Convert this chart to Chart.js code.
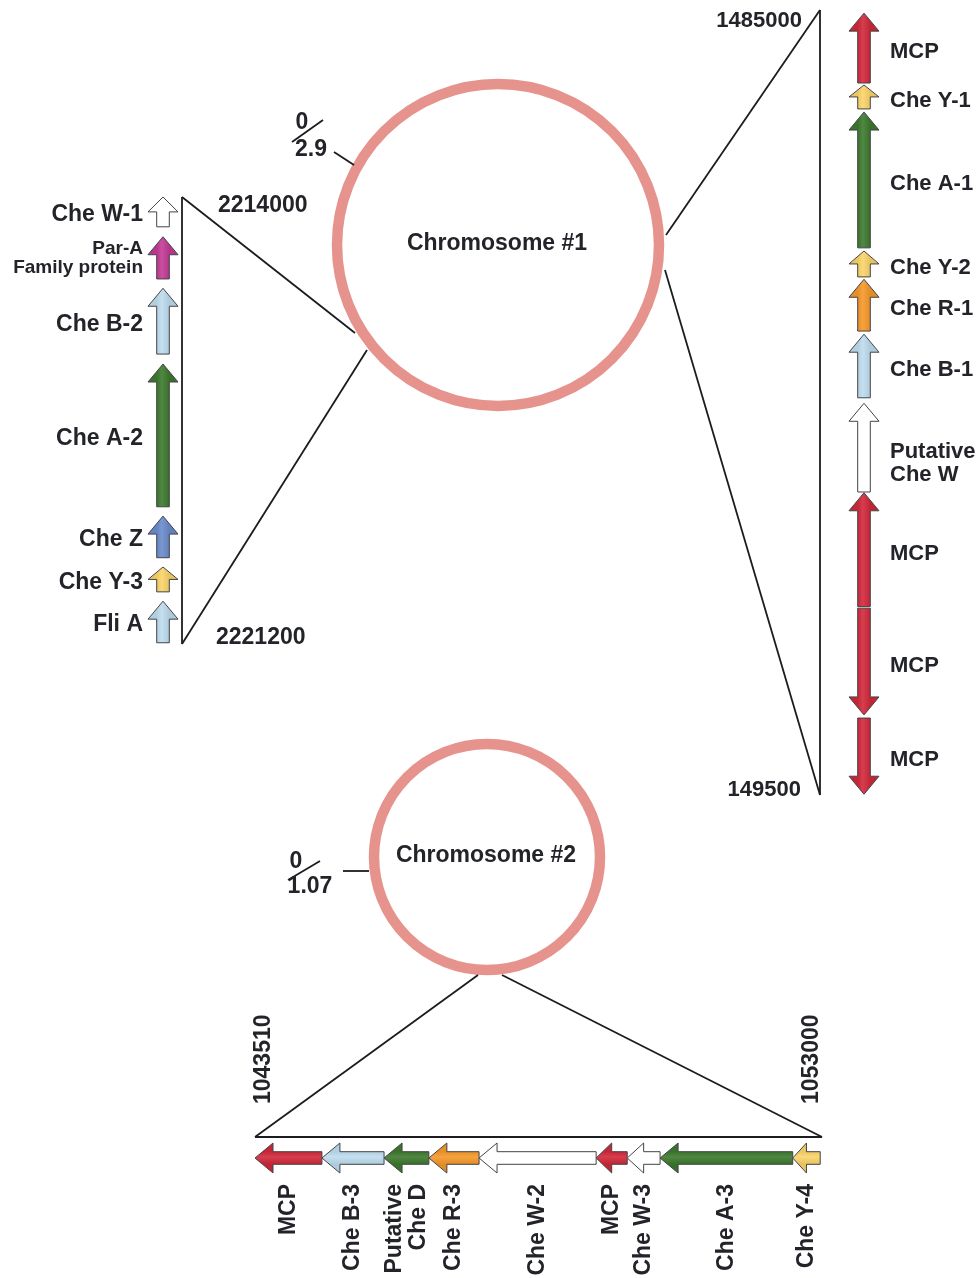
<!DOCTYPE html>
<html>
<head>
<meta charset="utf-8">
<script src="https://cdn.jsdelivr.net/npm/chart.js@4.4.1/dist/chart.umd.min.js"></script>
<style>
  html, body { margin: 0; padding: 0; background: #fff; overflow: hidden; }
  #wrap { width: 980px; height: 1278px; position: relative; }
</style>
</head>
<body>
<div id="wrap"><canvas id="genes"></canvas></div>
<script>
// chromosome #1, cluster at 2214000-2221200 (drawn top to bottom)
const chr1LeftNames  = ["Che W-1", "Par-A\nFamily protein", "Che B-2", "Che A-2", "Che Z", "Che Y-3", "Fli A"];
const chr1LeftStart  = [2214000, 2214640, 2215470, 2216690, 2219140, 2219960, 2220510];
const chr1LeftEnd    = [2214480, 2215320, 2216530, 2218990, 2219810, 2220360, 2221180];
const chr1LeftStrand = [-1, -1, -1, -1, -1, -1, -1];
const chr1LeftBounds = [2214000, 2221200];
const chr1LeftTicks  = ["2214000", "2221200"];

// chromosome #1, cluster at 1485000-1495000 (the figure prints the end as 149500)
const chr1RightNames  = ["MCP", "Che Y-1", "Che A-1", "Che Y-2", "Che R-1", "Che B-1", "Putative\nChe W", "MCP", "MCP", "MCP"];
const chr1RightStart  = [1485040, 1485955, 1486300, 1488070, 1488430, 1489130, 1490010, 1491150, 1492620, 1494020];
const chr1RightEnd    = [1485930, 1486260, 1488030, 1488400, 1489090, 1489940, 1491140, 1492600, 1493980, 1494990];
const chr1RightStrand = [-1, -1, -1, -1, -1, -1, -1, -1, 1, 1];
const chr1RightBounds = [1485000, 1495000];
const chr1RightTicks  = ["1485000", "149500"];

// chromosome #2, cluster at 1043510-1053000 (drawn left to right)
const chr2Names  = ["MCP", "Che B-3", "Putative\nChe D", "Che R-3", "Che W-2", "MCP", "Che W-3", "Che A-3", "Che Y-4"];
const chr2Start  = [1043510, 1044630, 1045670, 1046420, 1047260, 1049220, 1049740, 1050290, 1052510];
const chr2End    = [1044630, 1045670, 1046420, 1047260, 1049220, 1049740, 1050290, 1052510, 1052970];
const chr2Strand = [-1, -1, -1, -1, -1, -1, -1, -1, -1];
const chr2Bounds = [1043510, 1053000];
const chr2Ticks  = ["1043510", "1053000"];

const chromosomeNames = ["Chromosome #1", "Chromosome #2"];
const chromosomeSizes = ["2.9", "1.07"];

const W = 980, H = 1278;
const FONT = '"Liberation Sans", Arial, sans-serif';
const INK = "#232429";

// where each cluster sits on the page (pixels)
const box = {
    left:   { line: 182, genes: 163, p0: 197, p1: 644 },
    right:  { line: 820, genes: 864, p0: 10, p1: 795 },
    bottom: { line: 1137, genes: 1158, p0: 255, p1: 822 }
};

function span(bounds, p0, p1, total) {
    const k = (bounds[1] - bounds[0]) / (p1 - p0);
    return { min: bounds[0] - p0 * k, max: bounds[0] + (total - p0) * k };
}

function geneColor(name) {
    if (name.startsWith("MCP")) return "#d1283a";
    if (name.includes("Che Y")) return "#fad469";
    if (name.includes("Che A") || name.includes("Che D")) return "#3d7a2e";
    if (name.includes("Che B") || name.startsWith("Fli")) return "#bddcee";
    if (name.includes("Che R")) return "#f5982a";
    if (name.includes("Che Z")) return "#6a8ccc";
    if (name.startsWith("Par")) return "#c43a96";
    return "#ffffff";
}

function shade(hex, amt) {
    const n = parseInt(hex.slice(1), 16);
    const f = c => Math.round(amt < 0 ? c * (1 + amt) : c + (255 - c) * amt);
    return "rgb(" + f(n >> 16) + "," + f((n >> 8) & 255) + "," + f(n & 255) + ")";
}

function drawArrow(ctx, s0, s1, c, vertical, color) {
    const hw = 15, bw = 6.3;
    const dir = s1 > s0 ? 1 : -1;
    const head = Math.min(18, Math.abs(s1 - s0) * 0.5);
    const sh = s1 - dir * head;
    const pts = [[s0, -bw], [sh, -bw], [sh, -hw], [s1, 0], [sh, hw], [sh, bw], [s0, bw]];
    ctx.beginPath();
    pts.forEach((p, i) => {
        const x = vertical ? c + p[1] : p[0];
        const y = vertical ? p[0] : c + p[1];
        if (i === 0) ctx.moveTo(x, y); else ctx.lineTo(x, y);
    });
    ctx.closePath();
    if (color === "#ffffff") {
        ctx.fillStyle = color;
    } else {
        const g = vertical ? ctx.createLinearGradient(c - bw, 0, c + bw, 0)
                           : ctx.createLinearGradient(0, c - bw, 0, c + bw);
        g.addColorStop(0, shade(color, -0.06));
        g.addColorStop(0.4, shade(color, 0.1));
        g.addColorStop(1, shade(color, -0.08));
        ctx.fillStyle = g;
    }
    ctx.fill();
    ctx.lineWidth = 1;
    ctx.strokeStyle = "#444448";
    ctx.stroke();
}

function line(ctx, x1, y1, x2, y2) {
    ctx.beginPath();
    ctx.moveTo(x1, y1);
    ctx.lineTo(x2, y2);
    ctx.lineWidth = 1.8;
    ctx.strokeStyle = "#1c1c20";
    ctx.stroke();
}

function text(ctx, str, x, y, align, size, rot) {
    ctx.save();
    ctx.translate(x, y);
    if (rot) ctx.rotate(rot);
    ctx.font = "bold " + size + "px " + FONT;
    ctx.fillStyle = INK;
    ctx.textAlign = align;
    ctx.textBaseline = "middle";
    ctx.fillText(str, 0, 0);
    ctx.restore();
}

const genePlugin = {
    id: "geneClusters",
    afterDraw(chart) {
        const ctx = chart.ctx;
        const X = v => chart.scales.x.getPixelForValue(v);
        const Y = v => chart.scales.y.getPixelForValue(v);
        const sL = chart.scales.c1L, sR = chart.scales.c1R, sB = chart.scales.c2;

        // chromosome rings
        const rings = [[498, 245, 161], [487, 857, 113]];
        rings.forEach((r, i) => {
            ctx.beginPath();
            ctx.arc(X(r[0]), Y(r[1]), r[2], 0, Math.PI * 2);
            ctx.lineWidth = 10.5;
            ctx.strokeStyle = "#e6938d";
            ctx.stroke();
            text(ctx, chromosomeNames[i], X(r[0]) - 1, Y(r[1]) - 1, "center", 23);
        });

        // origin marks "0 / size"
        text(ctx, "0", X(302), Y(123), "center", 23);
        line(ctx, X(292), Y(142), X(323), Y(120));
        text(ctx, chromosomeSizes[0], X(311), Y(150), "center", 23);
        line(ctx, X(334), Y(152), X(354), Y(165));
        text(ctx, "0", X(296), Y(862), "center", 23);
        line(ctx, X(288), Y(880), X(320), Y(861));
        text(ctx, chromosomeSizes[1], X(310), Y(887), "center", 23);
        line(ctx, X(343), Y(871), X(369), Y(871));

        // zoom triangles
        const lt = sL.getPixelForValue(chr1LeftBounds[0]), lb = sL.getPixelForValue(chr1LeftBounds[1]);
        line(ctx, X(box.left.line), lt, X(box.left.line), lb);
        line(ctx, X(box.left.line), lt, X(355), Y(333));
        line(ctx, X(box.left.line), lb, X(367), Y(350));
        const rt = sR.getPixelForValue(chr1RightBounds[0]), rb = sR.getPixelForValue(chr1RightBounds[1]);
        line(ctx, X(box.right.line), rt, X(box.right.line), rb);
        line(ctx, X(box.right.line), rt, X(666), Y(235));
        line(ctx, X(box.right.line), rb, X(665), Y(270));
        const bl = sB.getPixelForValue(chr2Bounds[0]), br = sB.getPixelForValue(chr2Bounds[1]);
        line(ctx, bl, Y(box.bottom.line), br, Y(box.bottom.line));
        line(ctx, bl, Y(box.bottom.line), X(478), Y(975));
        line(ctx, br, Y(box.bottom.line), X(502), Y(975));

        // range labels
        text(ctx, chr1LeftTicks[0], X(box.left.line + 36), lt + 9, "left", 23);
        text(ctx, chr1LeftTicks[1], X(box.left.line + 34), lb - 6, "left", 23);
        text(ctx, chr1RightTicks[0], X(box.right.line - 18), rt + 11, "right", 22);
        text(ctx, chr1RightTicks[1], X(box.right.line - 19), rb - 5, "right", 22);
        text(ctx, chr2Ticks[0], bl + 9, Y(box.bottom.line - 33), "left", 23, -Math.PI / 2);
        text(ctx, chr2Ticks[1], br - 10, Y(box.bottom.line - 33), "left", 23, -Math.PI / 2);

        // left cluster
        chr1LeftNames.forEach((name, i) => {
            const a = sL.getPixelForValue(chr1LeftStart[i]), b = sL.getPixelForValue(chr1LeftEnd[i]);
            const tail = chr1LeftStrand[i] < 0 ? b : a, tip = chr1LeftStrand[i] < 0 ? a : b;
            drawArrow(ctx, tail, tip, X(box.left.genes), true, geneColor(name));
            const lines = name.split("\n");
            const mid = (a + b) / 2;
            if (lines.length === 1) {
                text(ctx, name, X(box.left.genes - 20), mid + 3, "right", 23);
            } else {
                lines.forEach((t, j) => text(ctx, t, X(box.left.genes - 20), mid + (j - (lines.length - 1) / 2) * 19, "right", 19));
            }
        });

        // right cluster
        chr1RightNames.forEach((name, i) => {
            const a = sR.getPixelForValue(chr1RightStart[i]), b = sR.getPixelForValue(chr1RightEnd[i]);
            const tail = chr1RightStrand[i] < 0 ? b : a, tip = chr1RightStrand[i] < 0 ? a : b;
            drawArrow(ctx, tail, tip, X(box.right.genes), true, geneColor(name));
            const mid = (a + b) / 2;
            name.split("\n").forEach((t, j) => text(ctx, t, X(box.right.genes + 26), mid + 4 + j * 23, "left", 22));
        });

        // chromosome #2 cluster
        chr2Names.forEach((name, i) => {
            const a = sB.getPixelForValue(chr2Start[i]), b = sB.getPixelForValue(chr2End[i]);
            const tail = chr2Strand[i] < 0 ? b : a, tip = chr2Strand[i] < 0 ? a : b;
            drawArrow(ctx, tail, tip, Y(box.bottom.genes), false, geneColor(name));
            const lines = name.split("\n");
            const mid = (a + b) / 2;
            lines.forEach((t, j) => text(ctx, t, mid + (j - (lines.length - 1) / 2) * 24, Y(1184), "right", 23, -Math.PI / 2));
        });
    }
};

const canvas = document.getElementById("genes");
const chart = new Chart(canvas, {
    type: "scatter",
    data: { datasets: [] },
    options: {
        responsive: true,
        maintainAspectRatio: false,
        animation: false,
        layout: { padding: 0 },
        plugins: { legend: { display: false }, tooltip: { enabled: false } },
        scales: {
            x: { type: "linear", min: 0, max: W, display: false },
            y: { type: "linear", min: 0, max: H, reverse: true, display: false },
            c1L: Object.assign({ type: "linear", axis: "y", position: "left", reverse: true, display: false },
                span(chr1LeftBounds, box.left.p0, box.left.p1, H)),
            c1R: Object.assign({ type: "linear", axis: "y", position: "right", reverse: true, display: false },
                span(chr1RightBounds, box.right.p0, box.right.p1, H)),
            c2: Object.assign({ type: "linear", axis: "x", position: "bottom", display: false },
                span(chr2Bounds, box.bottom.p0, box.bottom.p1, W))
        }
    },
    plugins: [genePlugin]
});
</script>
</body>
</html>
